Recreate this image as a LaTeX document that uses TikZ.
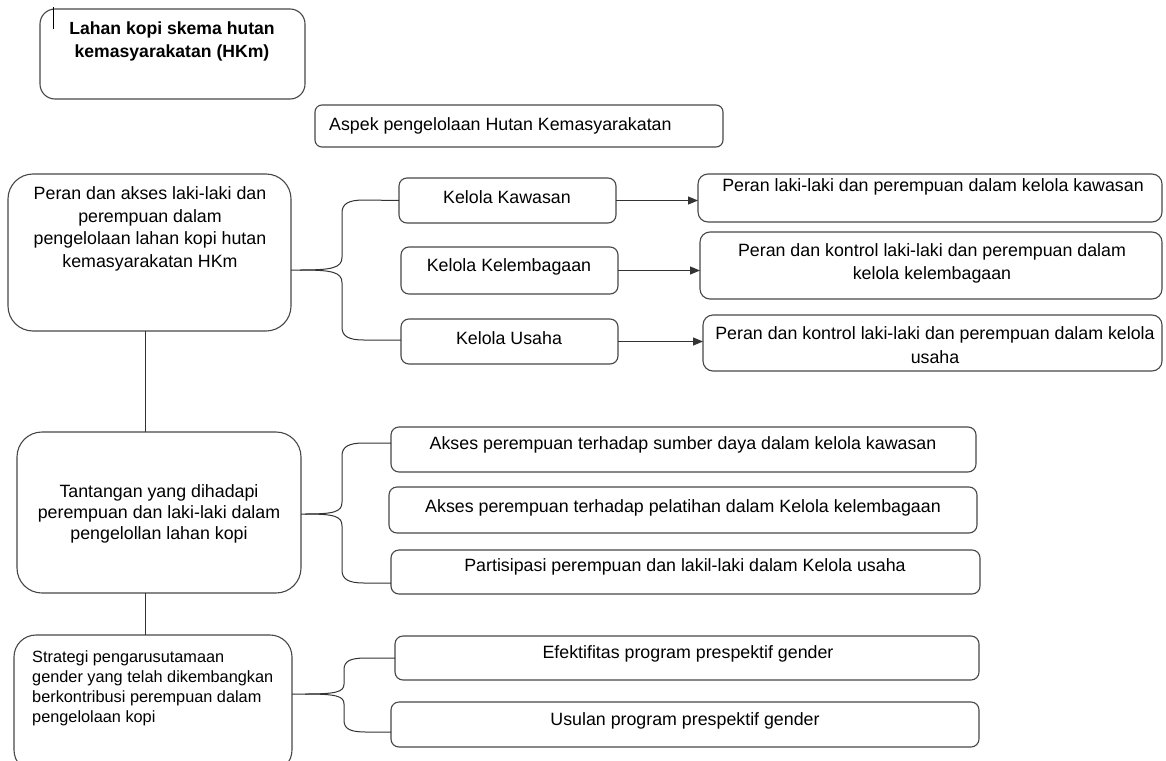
\documentclass[tikz,border=0pt]{standalone}
\usepackage{fontspec}
\setmainfont{Liberation Sans}
\usetikzlibrary{arrows.meta,calc}
\newcommand\mybox[6]{\node[bx, rounded corners=#6, minimum width={#4-#2}, minimum height={#5-#3}] (#1) at ({(#2+#4)/2},{(#3+#5)/2}) {};}
\begin{document}
\begin{tikzpicture}[x=1pt,y=-1pt,
  bx/.style={draw=black!72, line width=1.1pt, inner sep=0pt, outer sep=0pt, rectangle},
  txt/.style={font=\fontsize{17.8}{22.5}\selectfont, align=center, inner sep=0pt},
  stxt/.style={font=\fontsize{16.3}{20}\selectfont, align=left, inner sep=0pt, anchor=west},
  conn/.style={draw=black!80, line width=1pt},
  arr/.style={conn, -{Triangle[length=10pt,width=8pt]}}]
\useasboundingbox[fill=white] (0,0) rectangle (1166,760);
\clip (0,0) rectangle (1166,760);
% boxes
\mybox{top}{40}{9}{305}{99}{15pt}
\mybox{aspek}{315}{105}{723}{147}{7pt}
\mybox{peran}{8}{174}{291}{331}{25pt}
\mybox{kk}{399}{178}{616}{223}{8pt}
\mybox{kl}{401}{247}{618}{294}{8pt}
\mybox{ku}{401}{319}{618}{364}{8pt}
\mybox{ra}{698}{174}{1162}{222}{10pt}
\mybox{rb}{700}{232}{1162}{299}{10pt}
\mybox{rc}{703}{315}{1162}{371}{10pt}
\mybox{tant}{17}{432}{301}{593}{25pt}
\mybox{aa}{391}{427}{976}{472}{8pt}
\mybox{ab}{389}{487}{977}{533}{8pt}
\mybox{ac}{391}{550}{980}{594}{8pt}
\mybox{strat}{14}{635}{292}{772}{22pt}
\mybox{ea}{395}{636}{979}{680}{8pt}
\mybox{eb}{391}{702}{979}{747}{8pt}
% cursor mark
\draw[line width=0.8pt] (53,7) -- (53,29);
% texts
\node[txt, font=\fontsize{17.6}{23}\selectfont\bfseries] (ttop) at (172,41.5) {Lahan kopi skema hutan\\kemasyarakatan (HKm)};
\node[txt, anchor=west] (taspek) at (329,126) {Aspek pengelolaan Hutan Kemasyarakatan};
\node[txt] (tperan) at (150,229) {Peran dan akses laki-laki dan\\perempuan dalam\\pengelolaan lahan kopi hutan\\kemasyarakatan HKm};
\node[txt] (tkk) at (507,197) {Kelola Kawasan};
\node[txt] (tkl) at (509,267) {Kelola Kelembagaan};
\node[txt] (tku) at (509,338) {Kelola Usaha};
\node[txt] (tra) at (933,187) {Peran laki-laki dan perempuan dalam kelola kawasan};
\node[txt, font=\fontsize{17.8}{23.5}\selectfont] (trb) at (932,263.5) {Peran dan kontrol laki-laki dan perempuan dalam\\kelola kelembagaan};
\node[txt, font=\fontsize{17.8}{23.5}\selectfont] (trc) at (935,345) {Peran dan kontrol laki-laki dan perempuan dalam kelola\\usaha};
\node[txt, font=\fontsize{17.8}{21}\selectfont] (ttant) at (159,514) {Tantangan yang dihadapi\\perempuan dan laki-laki dalam\\pengelollan lahan kopi};
\node[txt] (taa) at (683,445) {Akses perempuan terhadap sumber daya dalam kelola kawasan};
\node[txt] (tab) at (683,508) {Akses perempuan terhadap pelatihan dalam Kelola kelembagaan};
\node[txt] (tac) at (685,567) {Partisipasi perempuan dan lakil-laki dalam Kelola usaha};
\node[stxt] (tstrat) at (32,688) {Strategi pengarusutamaan\\gender yang telah dikembangkan\\berkontribusi perempuan dalam\\pengelolaan kopi};
\node[txt] (tea) at (688,654) {Efektifitas program prespektif gender};
\node[txt] (teb) at (685,721) {Usulan program prespektif gender};
% vertical links
\coordinate (vx) at (145,0);
\draw[conn] (peran.south -| vx) -- (tant.north -| vx);
\draw[conn] (tant.south -| vx) -- (strat.north -| vx);
% brace 1
\draw[conn] ([yshift=-17.5pt]peran.east) -- (300,270) .. controls (332,270) and (342,268) .. (342,257) -- (342,213) .. controls (342,204) and (348,200) .. (364,200) -- (kk.west);
\draw[conn] (300,270) .. controls (332,270) and (342,272) .. (342,283) -- (342,327) .. controls (342,336) and (348,340) .. (364,340) -- ([yshift=1.5pt]ku.west);
% brace 2
\draw[conn] ([yshift=-1.5pt]tant.east) -- (305,514) .. controls (334,514) and (342,512) .. (342,502) -- (342,456) .. controls (342,447) and (348,443) .. (364,443) -- ([yshift=6.5pt]aa.west);
\draw[conn] (305,514) .. controls (334,514) and (342,516) .. (342,526) -- (342,570) .. controls (342,579) and (348,583) .. (364,583) -- ([yshift=-11pt]ac.west);
% brace 3
\draw[conn] ([yshift=9.5pt]strat.east) -- (305,694) .. controls (336,694) and (344,692) .. (344,684) -- (344,670) .. controls (344,661) and (350,658) .. (366,658) -- (ea.west);
\draw[conn] (305,694) .. controls (336,694) and (344,696) .. (344,704) -- (344,720) .. controls (344,729) and (350,732) .. (366,732) -- ([yshift=-7.5pt]eb.west);
% arrows
\draw[arr] (kk.east) -- (kk.east -| ra.west);
\draw[arr] (kl.east) -- (kl.east -| rb.west);
\draw[arr] (ku.east) -- (ku.east -| rc.west);
\end{tikzpicture}
\end{document}
